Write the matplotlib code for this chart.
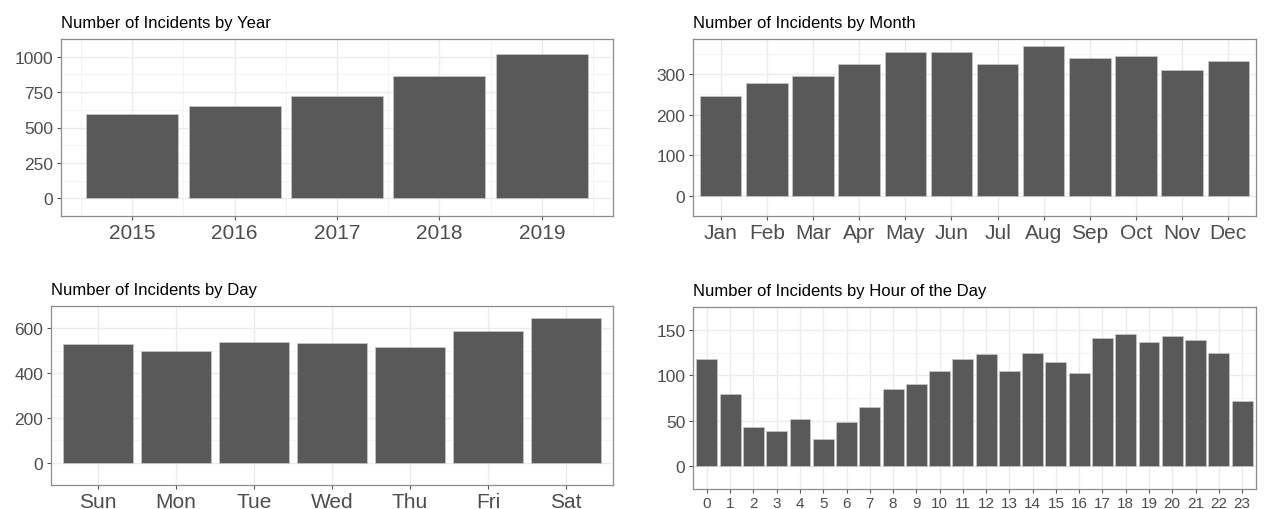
import matplotlib
matplotlib.use("Agg")
import matplotlib.pyplot as plt
import numpy as np

# incident counts
years = [2015, 2016, 2017, 2018, 2019]
year_counts = [594, 655, 722, 861, 1021]

months = ["Jan", "Feb", "Mar", "Apr", "May", "Jun",
          "Jul", "Aug", "Sep", "Oct", "Nov", "Dec"]
month_counts = [246, 278, 294, 325, 355, 354, 325, 368, 339, 344, 311, 331]

days = ["Sun", "Mon", "Tue", "Wed", "Thu", "Fri", "Sat"]
day_counts = [528, 501, 540, 534, 517, 590, 648]

hours = [str(h) for h in range(24)]
hour_counts = [118, 79, 43, 39, 52, 30, 49, 65, 85, 90, 105, 118,
               123, 105, 124, 115, 103, 141, 145, 137, 143, 139, 125, 72]

year_breaks = [0, 250, 500, 750, 1000]
month_breaks = [0, 100, 200, 300]
day_breaks = [0, 200, 400, 600]
hour_breaks = [0, 50, 100, 150]

plt.rcParams['font.family'] = ['Liberation Sans', 'DejaVu Sans']

W, H = 1264, 510
fig = plt.figure(figsize=(W / 100, H / 100), dpi=100)
fig.patch.set_facecolor('white')

BAR = '#595959'
GRID = '#ebebeb'
GRID_MINOR = '#f3f3f3'
BORDER = '#8c8c8c'
TXT = '#4d4d4d'


def make_axes(x0, y0, x1, y1):
    # pixel box -> figure fraction
    return fig.add_axes([x0 / W, 1 - y1 / H, (x1 - x0) / W, (y1 - y0) / H])


def bar_panel(ax, x, labels, counts, breaks, title, xsize=15, continuous=False):
    ax.bar(x, counts, width=0.9, color=BAR, edgecolor='#c8c8c8', linewidth=0.5, zorder=2)
    top = max(counts)
    ax.set_ylim(-0.05 * top, 1.05 * top)
    if continuous:
        lo, hi = min(x) - 0.45, max(x) + 0.45
        pad = 0.05 * (hi - lo)
        ax.set_xlim(lo - pad, hi + pad)
        ax.set_xticks([v + 0.5 for v in [min(x) - 1] + list(x)], minor=True)
    else:
        ax.set_xlim(-0.6, len(x) - 1 + 0.6)
    ax.set_xticks(x)
    ax.set_xticklabels(labels)
    ax.set_yticks(breaks)
    ax.set_yticklabels([str(b) for b in breaks])
    step = breaks[1] - breaks[0]
    ax.set_yticks([b + step / 2 for b in [breaks[0] - step] + breaks], minor=True)
    ax.set_axisbelow(True)
    ax.grid(which='major', color=GRID, linewidth=1.0, zorder=0)
    ax.grid(which='minor', color=GRID_MINOR, linewidth=0.6, zorder=0)
    for s in ax.spines.values():
        s.set_color(BORDER)
        s.set_linewidth(0.9)
    ax.tick_params(which='major', length=3, width=0.8, color='#555555', labelcolor=TXT)
    ax.tick_params(which='minor', length=0)
    ax.tick_params(axis='y', labelsize=12.5, pad=2.5)
    ax.tick_params(axis='x', labelsize=xsize, pad=2)
    ax.set_title(title, loc='left', fontsize=12, color='black', pad=8.5)


ax1 = make_axes(61, 40, 613, 217)
bar_panel(ax1, years, [str(y) for y in years], year_counts, year_breaks,
          "Number of Incidents by Year", continuous=True)

ax2 = make_axes(693, 40, 1256, 217)
bar_panel(ax2, np.arange(len(months)), months, month_counts, month_breaks,
          "Number of Incidents by Month")

ax3 = make_axes(51, 307, 613, 486)
bar_panel(ax3, np.arange(len(days)), days, day_counts, day_breaks,
          "Number of Incidents by Day")

ax4 = make_axes(693, 308, 1256, 490)
bar_panel(ax4, np.arange(len(hours)), hours, hour_counts, hour_breaks,
          "Number of Incidents by Hour of the Day", xsize=11)

fig.savefig("out.png", dpi=100, facecolor='white')
